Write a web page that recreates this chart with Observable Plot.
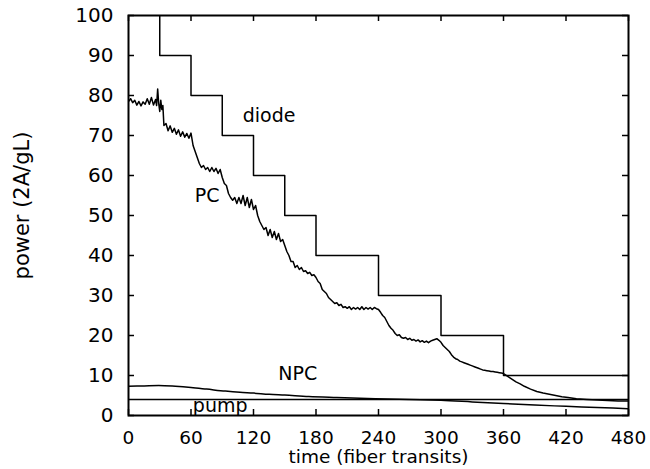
<!DOCTYPE html>
<html>
<head>
<meta charset="utf-8">
<script src="https://cdn.jsdelivr.net/npm/d3@7"></script>
<script src="https://cdn.jsdelivr.net/npm/@observablehq/plot@0.6"></script>
<style>
  html, body { margin: 0; padding: 0; background: #fff; }
  #chart { width: 650px; height: 469px; }
</style>
</head>
<body>
<div id="chart"></div>
<script>
// x ticks and y ticks
const xTicks = [0, 60, 120, 180, 240, 300, 360, 420, 480];
const yTicks = [0, 10, 20, 30, 40, 50, 60, 70, 80, 90, 100];

// diode power: step levels (value holds until next time)
const diodeT = [0, 30, 60, 90, 120, 150, 180, 240, 300, 360, 480];
const diodeV = [110, 90, 80, 70, 60, 50, 40, 30, 20, 10, 10];

// PC (phase conjugate) power
const pcT = [0,2,4,6,8,10,12,14,16,18,20,22,24,26,27,28,29,30,31,32,33,34,36,38,40,42,44,46,48,50,52,54,56,58,60,62,64,66,68,70,72,74,76,78,80,82,84,86,88,90,92,94,96,98,100,102,104,106,108,110,112,114,116,118,120,122,124,126,128,130,132,134,136,138,140,142,144,146,148,150,152,154,156,158,160,162,164,166,168,170,172,174,176,178,180,182,184,186,188,190,192,194,196,198,200,202,204,206,208,210,212,214,216,218,220,222,224,226,228,230,232,234,236,238,240,242,244,246,248,250,252,254,256,258,260,262,264,266,268,270,272,274,276,278,280,282,284,286,288,290,292,294,296,298,300,302,304,306,308,310,312,314,316,318,320,322,324,326,328,330,332,334,336,338,340,342,344,346,348,350,352,354,356,358,360,364,368,372,376,380,386,392,398,404,410,416,422,430,440,450,460,470,480];
const pcV = [78.5,79.2,78.2,78.8,77.6,78.5,77.4,78.4,77.8,79.2,77.8,79.5,77.6,79,77.5,81.6,78,76,78.8,76.5,77.5,72.5,73,71.2,72.4,70.8,71.8,70.3,71.4,69.8,70.9,69.6,70.5,69.3,70.6,67.5,66,64.5,63,62,62.5,61.5,62,61,62,61,61.8,60.5,61.5,59.5,58,57.5,55.5,54.5,53.8,54.5,53,54.5,53,55,52.5,54.5,52,54,51.5,52.5,50,48.5,47.5,46.5,47,45,46.5,44.5,46,44,45.5,43.5,44,42.5,41,40,38.5,38.5,37,37.5,36.5,37,36,36.2,35.5,35.8,35,35.2,34.5,33.5,33,31.5,31,30.5,29.5,29,28.5,28,28.2,27.5,27.8,27,27.2,26.8,27.2,26.5,27,26.6,27,26.5,27.2,26.5,27,26.6,27,26.5,27,26.7,26.5,25.8,25,24.5,23.5,22.5,21.8,21.3,20.5,20,20.2,19.5,19.3,19.5,19,19.3,18.8,19,18.6,18.9,18.4,18.7,18.3,18.6,18.2,18.6,18.8,19,19.2,18.8,18.3,17.5,17,16.5,16,15.2,14.6,14.2,14,13.6,13.4,13.2,13,12.8,12.6,12.4,12.2,12,11.8,11.6,11.4,11.3,11.2,11.1,11,11,10.9,10.8,10.7,10.6,10.5,9.8,9.1,8.4,7.9,7.3,6.6,6.0,5.6,5.3,5.0,4.7,4.5,4.2,4.0,3.85,3.75,3.65,3.6];

// NPC power
const npcT = [0,15,29,45,60,75,93,107,120,135,150,173,200,237,260,280,300,330,360,390,420,450,480];
const npcV = [7.3,7.4,7.5,7.3,7.0,6.6,6.1,5.8,5.6,5.3,5.1,4.75,4.5,4.2,4.05,3.95,3.8,3.4,3.0,2.6,2.3,2.0,1.7];

// pump power (constant)
const pumpT = [0, 480];
const pumpV = [4, 4];

// curve labels
const labelText = ["diode", "PC", "NPC", "pump"];
const labelT = [135, 75.5, 162.5, 88];
const labelV = [75, 55, 10.3, 2.3];

const xLabel = "time (fiber transits)";
const yLabel = "power (2A/gL)";

const diode = diodeT.map((t, i) => ({t, v: diodeV[i]}));
const pc = pcT.map((t, i) => ({t, v: pcV[i]}));
const npc = npcT.map((t, i) => ({t, v: npcV[i]}));
const pump = pumpT.map((t, i) => ({t, v: pumpV[i]}));
const labels = labelText.map((s, i) => ({s, t: labelT[i], v: labelV[i]}));

const xMax = 480, yMax = 100;
const tickLenX = 6 * 480 / 500; // 6px in x units
const tickLenY = 6 / 4;         // 6px in y units

const chart = Plot.plot({
  width: 650,
  height: 469,
  marginLeft: 128,
  marginRight: 22,
  marginTop: 15,
  marginBottom: 54,
  style: {fontFamily: "DejaVu Sans", fontSize: "18px", color: "#000", background: "#fff"},
  x: {domain: [0, xMax], ticks: xTicks},
  y: {domain: [0, yMax], ticks: yTicks},
  marks: [
    Plot.axisX(xTicks, {tickSize: 0, tickPadding: 15, label: null, fontSize: 18.5}),
    Plot.axisY(yTicks, {tickSize: 0, tickPadding: 15, label: null, fontSize: 20}),
    // inward tick marks on all four sides
    Plot.ruleX(xTicks, {y1: 0, y2: tickLenY, stroke: "#000", strokeWidth: 1.5}),
    Plot.ruleX(xTicks, {y1: yMax - tickLenY, y2: yMax, stroke: "#000", strokeWidth: 1.5}),
    Plot.ruleY(yTicks, {x1: 0, x2: tickLenX, stroke: "#000", strokeWidth: 1.5}),
    Plot.ruleY(yTicks, {x1: xMax - tickLenX, x2: xMax, stroke: "#000", strokeWidth: 1.5}),
    Plot.line(diode, {x: "t", y: "v", curve: "step-after", stroke: "#000", strokeWidth: 1.5, clip: true}),
    Plot.line(pc, {x: "t", y: "v", stroke: "#000", strokeWidth: 1.5, clip: true}),
    Plot.line(npc, {x: "t", y: "v", stroke: "#000", strokeWidth: 1.5, curve: "monotone-x", clip: true}),
    Plot.line(pump, {x: "t", y: "v", stroke: "#000", strokeWidth: 1.5, clip: true}),
    Plot.text(labels, {x: "t", y: "v", text: "s", fontSize: 19, fill: "#000"}),
    Plot.text([xLabel], {frameAnchor: "bottom", textAnchor: "middle", lineAnchor: "middle", dy: 42, fontSize: 18.5, fill: "#000"}),
    Plot.text([yLabel], {frameAnchor: "left", textAnchor: "middle", lineAnchor: "middle", dx: -106, dy: -10, rotate: -90, fontSize: 21, fill: "#000"}),
    Plot.frame({stroke: "#000", strokeWidth: 2})
  ]
});
document.getElementById("chart").appendChild(chart);
</script>
</body>
</html>
